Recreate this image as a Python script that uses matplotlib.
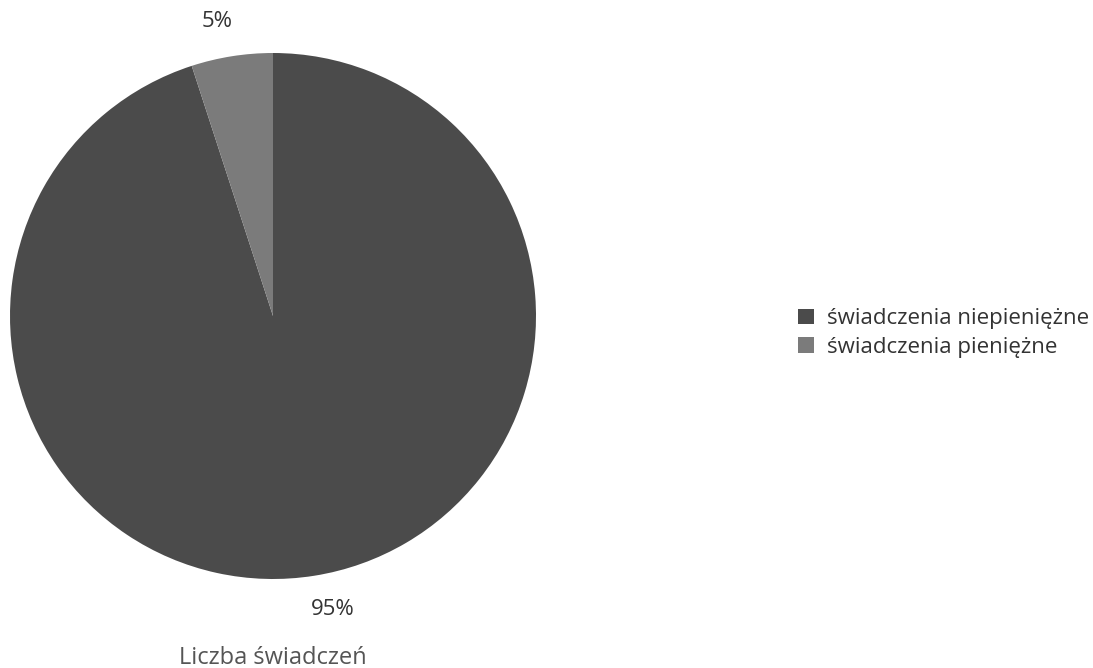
import matplotlib
matplotlib.use("Agg")
import matplotlib.pyplot as plt
from matplotlib.patches import Patch

categories = ["świadczenia niepieniężne", "świadczenia pieniężne"]
values = [95, 5]
colors = ["#4b4b4b", "#7b7b7b"]
title = "Liczba świadczeń"

plt.rcParams['font.family'] = ['Open Sans', 'DejaVu Sans']

W, H = 1093, 668
fig = plt.figure(figsize=(W / 100, H / 100), dpi=100)
cx, cy, r = 273, 316, 263
ax = fig.add_axes([(cx - r) / W, (H - cy - r) / H, 2 * r / W, 2 * r / H])
wedges, texts = ax.pie(values, colors=colors, startangle=90, counterclock=False,
                       labels=[f"{v}%" for v in values], labeldistance=1.12,
                       textprops=dict(fontsize=16, color="#333333"),
                       wedgeprops=dict(linewidth=0))
label_pos = [(0.228, -1.115), (-0.213, 1.118)]
for t, p in zip(texts, label_pos):
    t.set_ha('center')
    t.set_va('center')
    t.set_position(p)
ax.set_aspect('equal')
ax.set_xlim(-1, 1)
ax.set_ylim(-1, 1)

fig.text(cx / W, 1 - 658 / H, title, ha='center', va='center', fontsize=17, color='#555555')

handles = [Patch(facecolor=c, edgecolor='none') for c in colors]
fig.legend(handles, categories, loc='center left', bbox_to_anchor=(778 / W, 1 - 333 / H),
           frameon=False, fontsize=16, handlelength=0.7, handleheight=0.7,
           handletextpad=0.6, labelspacing=0.35, labelcolor='#333333')

fig.savefig("out.png", dpi=100)
